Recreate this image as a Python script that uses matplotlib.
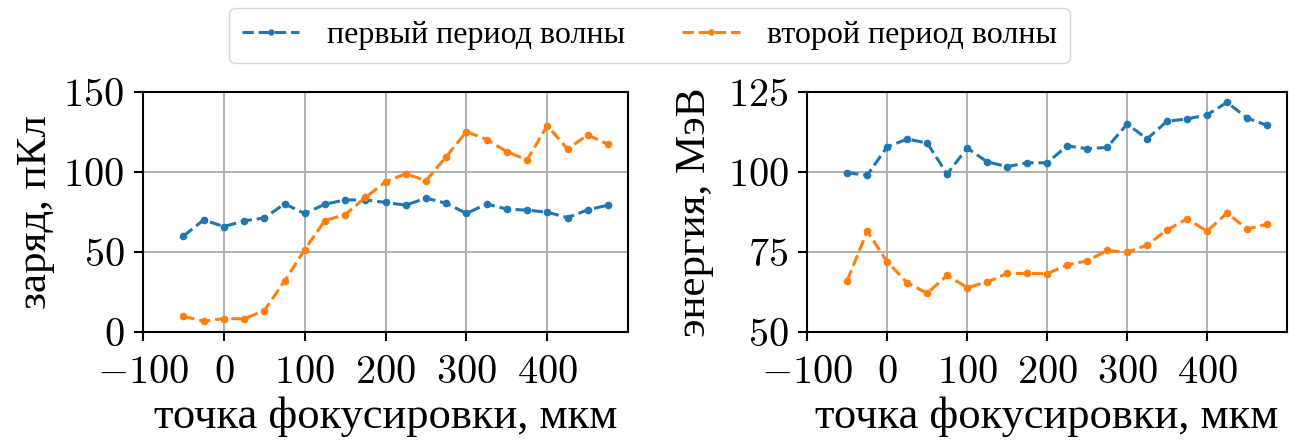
import matplotlib
matplotlib.use("Agg")
import matplotlib.pyplot as plt
from matplotlib.ticker import FuncFormatter

# focus point positions, um
focus = [-50, -25, 0, 25, 50, 75, 100, 125, 150, 175, 200, 225,
         250, 275, 300, 325, 350, 375, 400, 425, 450, 475]

# charge, pC
charge_first = [60.0, 70.1, 65.9, 69.5, 71.3, 80.1, 74.1, 79.9, 82.6, 82.6, 81.0,
                79.3, 83.7, 80.5, 74.1, 80.1, 76.8, 76.2, 74.9, 71.5, 76.4, 79.3]
charge_second = [9.8, 6.7, 8.4, 8.2, 13.4, 31.8, 51.5, 69.7, 73.4, 84.1, 93.9,
                 99.0, 94.6, 109.6, 125.3, 120.3, 112.8, 107.5, 129.1, 114.4, 123.2, 117.4]

# energy, MeV
energy_first = [99.8, 99.0, 107.9, 110.3, 109.1, 99.4, 107.5, 103.2, 101.7, 102.9, 102.9,
                108.2, 107.3, 107.7, 115.0, 110.4, 115.9, 116.6, 117.9, 121.8, 116.9, 114.6]
energy_second = [66.0, 81.5, 72.0, 65.4, 62.1, 67.7, 63.9, 65.6, 68.3, 68.3, 68.2,
                 71.0, 72.2, 75.5, 74.9, 77.2, 81.9, 85.4, 81.5, 87.2, 82.2, 83.7]

labels = ["первый период волны", "второй период волны"]

plt.rcParams["font.family"] = ["Liberation Serif", "DejaVu Serif"]
plt.rcParams["mathtext.fontset"] = "cm"

fig = plt.figure(figsize=(13.04, 4.45), dpi=100)
ax1 = fig.add_axes([0.1097, 0.254, 0.372, 0.539])
ax2 = fig.add_axes([0.619, 0.254, 0.368, 0.539])

style = dict(linestyle="--", marker="o", markersize=4.5, linewidth=2.2)

ax1.plot(focus, charge_first, color="#1f77b4", label=labels[0], **style)
ax1.plot(focus, charge_second, color="#ff7f0e", label=labels[1], **style)
ax2.plot(focus, energy_first, color="#1f77b4", **style)
ax2.plot(focus, energy_second, color="#ff7f0e", **style)

ax1.set_ylim(0, 150)
ax1.set_yticks([0, 50, 100, 150])
ax2.set_ylim(50, 125)
ax2.set_yticks([50, 75, 100, 125])

fmt = FuncFormatter(lambda v, pos: r"$%g$" % v)
for ax in (ax1, ax2):
    ax.set_xlim(-100, 500)
    ax.set_xticks([-100, 0, 100, 200, 300, 400])
    ax.xaxis.set_major_formatter(fmt)
    ax.yaxis.set_major_formatter(fmt)
    ax.grid(True, color="#b0b0b0", linewidth=1.4)
    ax.set_axisbelow(True)
    ax.tick_params(labelsize=29, length=6.5, width=1.5)
    ax.tick_params(axis="x", pad=10)
    ax.tick_params(axis="y", pad=7)
    for sp in ax.spines.values():
        sp.set_linewidth(1.5)
    ax.set_xlabel("точка фокусировки, мкм", fontsize=32, labelpad=3)

ax1.set_ylabel("заряд, пКл", fontsize=31, labelpad=6)
ax2.set_ylabel("энергия, МэВ", fontsize=31, labelpad=10)

fig.legend(loc="upper center", bbox_to_anchor=(0.498, 0.982), ncol=2,
           fontsize=23, frameon=True, handlelength=1.8, handletextpad=0.85,
           columnspacing=1.8, edgecolor="#cccccc", markerscale=0.8,
           borderaxespad=0)

fig.savefig("out.png", dpi=100)
